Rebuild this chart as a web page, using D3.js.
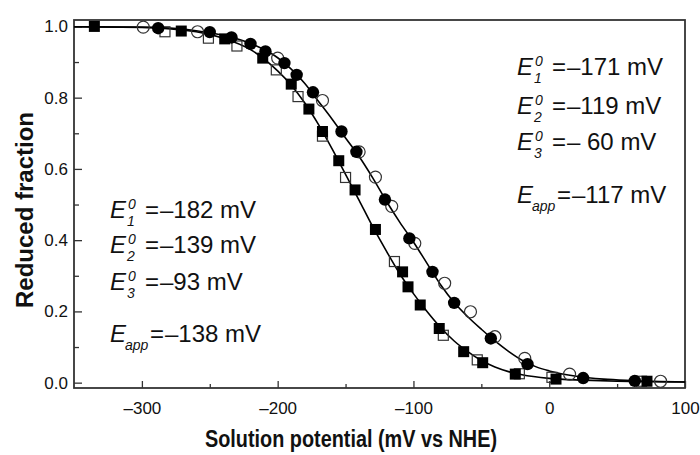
<!DOCTYPE html>
<html>
<head>
<meta charset="utf-8">
<script src="https://cdnjs.cloudflare.com/ajax/libs/d3/7.8.5/d3.min.js"></script>
<style>
  body { margin: 0; background: #fff; }
  text { font-family: "Liberation Sans", Arial, sans-serif; fill: #111; }
</style>
</head>
<body>
<svg id="redox" width="700" height="455"></svg>
<script>
/**
 * Redox titration: reduced fraction vs solution potential,
 * two fitted curves with four marker series.
 */

// filled squares (left curve)
var fsqX = [-335, -271, -239, -211, -190, -177, -167, -155, -143, -128, -108, -104, -95, -81, -63, -49, -25, 5, 72];
var fsqY = [1.0, 0.987, 0.965, 0.911, 0.838, 0.768, 0.705, 0.623, 0.541, 0.430, 0.311, 0.269, 0.218, 0.152, 0.087, 0.056, 0.024, 0.010, 0.004];

// open squares (left curve)
var osqX = [-283, -251, -230, -201, -185, -167, -150, -114, -78, -53, -22, 2, 68];
var osqY = [0.985, 0.967, 0.945, 0.878, 0.803, 0.692, 0.576, 0.340, 0.133, 0.064, 0.025, 0.015, 0.004];

// filled circles (right curve)
var fciX = [-288, -250, -234, -220, -209, -195, -186, -174, -153, -142, -121, -103, -86, -70, -43, -16, 25, 63];
var fciY = [0.995, 0.984, 0.969, 0.951, 0.930, 0.897, 0.864, 0.815, 0.705, 0.648, 0.514, 0.405, 0.311, 0.224, 0.124, 0.052, 0.013, 0.005];

// open circles (right curve)
var ociX = [-299, -259, -200, -167, -140, -128, -116, -99, -77, -58, -40, -18, 15, 82];
var ociY = [0.998, 0.985, 0.911, 0.792, 0.648, 0.577, 0.495, 0.391, 0.279, 0.199, 0.129, 0.068, 0.024, 0.004];

// fitted curves
var fitLeftX = [-350, -300, -260, -240, -220, -200, -190, -180, -170, -160, -150, -140, -130, -120, -110, -100, -90, -80, -70, -60, -50, -40, -30, -20, 0, 25, 50, 100];
var fitLeftY = [0.999, 0.997, 0.985, 0.967, 0.935, 0.875, 0.835, 0.785, 0.725, 0.657, 0.585, 0.512, 0.438, 0.370, 0.305, 0.250, 0.200, 0.155, 0.117, 0.087, 0.062, 0.044, 0.031, 0.022, 0.012, 0.007, 0.004, 0.002];
var fitRightX = [-350, -300, -260, -240, -220, -200, -190, -180, -170, -160, -150, -140, -130, -120, -110, -100, -90, -80, -70, -60, -50, -40, -30, -20, -10, 0, 20, 40, 60, 100];
var fitRightY = [0.999, 0.998, 0.988, 0.975, 0.952, 0.912, 0.880, 0.840, 0.790, 0.740, 0.687, 0.635, 0.575, 0.510, 0.450, 0.395, 0.335, 0.275, 0.225, 0.185, 0.150, 0.117, 0.088, 0.063, 0.045, 0.033, 0.018, 0.010, 0.006, 0.002];

var xTicks = [-300, -200, -100, 0, 100];
var xMinor = [-250, -150, -50, 50];
var yTicks = [0, 0.2, 0.4, 0.6, 0.8, 1.0];
var yMinor = [0.1, 0.3, 0.5, 0.7, 0.9];

// annotation blocks: subscript, value
var leftSubs = ['1', '2', '3', 'app'];
var leftVals = ['\u2013182 mV', '\u2013139 mV', '\u201393 mV', '\u2013138 mV'];
var rightSubs = ['1', '2', '3', 'app'];
var rightVals = ['\u2013171 mV', '\u2013119 mV', '\u2013 60 mV', '\u2013117 mV'];

function zip(xs, ys) {
    return xs.map(function(v, i) { return {x: v, y: ys[i]}; });
}

function drawChart() {
    var svg = d3.select("svg#redox"),
        left = 74, right = 685, top = 20, bottom = 388;

    var x = d3.scaleLinear().domain([-350, 100]).range([left, right]);
    var y = d3.scaleLinear().domain([-0.015, 1.018]).range([bottom, top]);

    // axes (ticks point inwards)
    var gx = svg.append("g")
        .attr("transform", "translate(0," + bottom + ")")
        .call(d3.axisBottom(x).tickValues(xTicks).tickSize(-7).tickPadding(14)
            .tickFormat(function(d) { return d < 0 ? "\u2013" + Math.abs(d) : d; }));
    gx.append("g").call(d3.axisBottom(x).tickValues(xMinor).tickSize(-4).tickFormat(""));

    var gy = svg.append("g")
        .attr("transform", "translate(" + left + ",0)")
        .call(d3.axisLeft(y).tickValues(yTicks).tickSize(-8).tickPadding(6).tickFormat(d3.format(".1f")));
    gy.append("g").call(d3.axisLeft(y).tickValues(yMinor).tickSize(-5).tickFormat(""));

    svg.selectAll(".domain").remove();
    svg.selectAll(".tick line").attr("stroke", "#333").attr("stroke-width", 1.3);
    svg.selectAll(".tick text")
        .style("font-family", "'Liberation Sans', Arial, sans-serif")
        .style("font-size", "17px")
        .attr("fill", "#222");

    // frame
    svg.append("rect")
        .attr("x", left).attr("y", top)
        .attr("width", right - left).attr("height", bottom - top)
        .attr("fill", "none").attr("stroke", "#333").attr("stroke-width", 1.8);

    // fitted curves
    var line = d3.line()
        .x(function(d) { return x(d.x); })
        .y(function(d) { return y(d.y); })
        .curve(d3.curveMonotoneX);

    [zip(fitLeftX, fitLeftY), zip(fitRightX, fitRightY)].forEach(function(pts) {
        svg.append("path")
            .datum(pts)
            .attr("d", line)
            .attr("fill", "none")
            .attr("stroke", "#000")
            .attr("stroke-width", 1.6);
    });

    // markers: open ones first, filled on top
    svg.selectAll(".osq").data(zip(osqX, osqY)).enter().append("rect")
        .attr("x", function(d) { return x(d.x) - 5; })
        .attr("y", function(d) { return y(d.y) - 5; })
        .attr("width", 10).attr("height", 10)
        .attr("fill", "none").attr("stroke", "#333").attr("stroke-width", 1.2);

    svg.selectAll(".oci").data(zip(ociX, ociY)).enter().append("circle")
        .attr("cx", function(d) { return x(d.x); })
        .attr("cy", function(d) { return y(d.y); })
        .attr("r", 6)
        .attr("fill", "none").attr("stroke", "#333").attr("stroke-width", 1.2);

    svg.selectAll(".fsq").data(zip(fsqX, fsqY)).enter().append("rect")
        .attr("x", function(d) { return x(d.x) - 5.5; })
        .attr("y", function(d) { return y(d.y) - 5.5; })
        .attr("width", 11).attr("height", 11)
        .attr("fill", "#000");

    svg.selectAll(".fci").data(zip(fciX, fciY)).enter().append("circle")
        .attr("cx", function(d) { return x(d.x); })
        .attr("cy", function(d) { return y(d.y); })
        .attr("r", 6.2)
        .attr("fill", "#000");

    // axis titles
    svg.append("text")
        .attr("transform", "translate(33,210) rotate(-90)")
        .attr("text-anchor", "middle")
        .style("font-weight", "bold")
        .style("font-size", "24px")
        .text("Reduced fraction");

    svg.append("text")
        .attr("x", 351).attr("y", 447)
        .attr("text-anchor", "middle")
        .attr("textLength", 292)
        .attr("lengthAdjust", "spacingAndGlyphs")
        .style("font-weight", "bold")
        .style("font-size", "23px")
        .text("Solution potential (mV vs NHE)");

    // potentials
    drawBlock(svg, 110, [218, 253, 290, 342], leftSubs, leftVals);
    drawBlock(svg, 517, [75, 114, 150, 203], rightSubs, rightVals);
}

function drawBlock(svg, x0, baselines, subs, vals) {
    subs.forEach(function(s, i) {
        var b = baselines[i],
            isApp = (s === 'app'),
            eqX = x0 + (isApp ? 40 : 35);
        svg.append("text")
            .attr("x", x0).attr("y", b)
            .style("font-style", "italic").style("font-size", "24px")
            .text("E");
        if (!isApp) {
            svg.append("text")
                .attr("x", x0 + 18).attr("y", b - 9)
                .style("font-style", "italic").style("font-size", "14px")
                .text("0");
        }
        svg.append("text")
            .attr("x", x0 + (isApp ? 15 : 17)).attr("y", b + 8)
            .style("font-style", "italic").style("font-size", "14px")
            .text(s);
        svg.append("text")
            .attr("x", eqX).attr("y", b)
            .style("font-size", "24px")
            .text("=");
        svg.append("text")
            .attr("x", eqX + 15).attr("y", b)
            .style("font-size", "24px")
            .text(vals[i]);
    });
}

drawChart();
</script>
</body>
</html>
